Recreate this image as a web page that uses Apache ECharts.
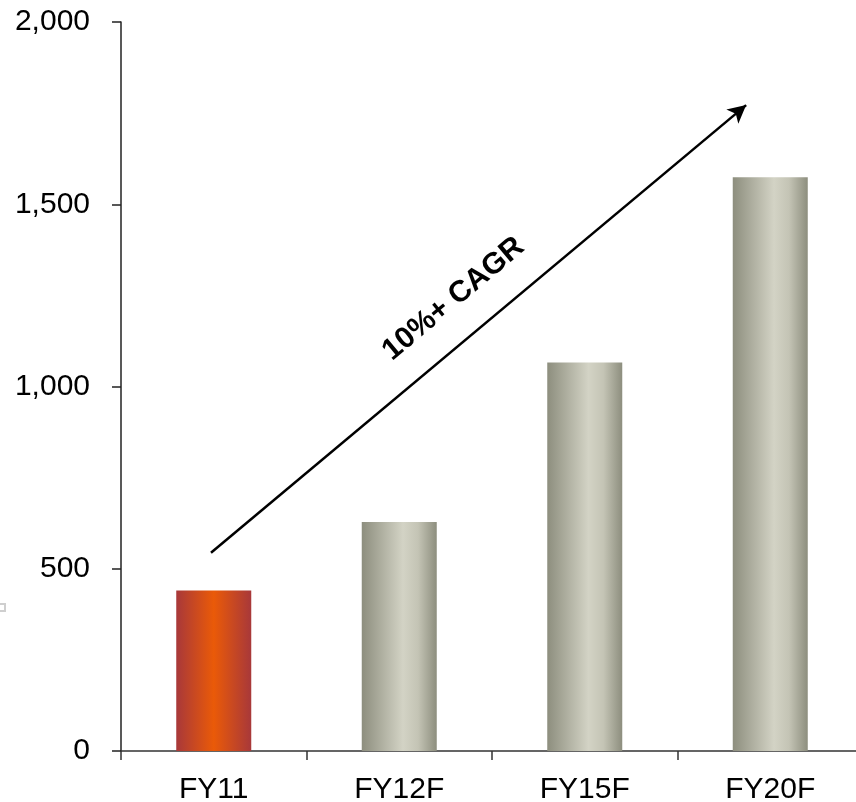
<!DOCTYPE html>
<html lang="en">
<head>
    <meta charset="UTF-8">
    <title>CAGR</title>
    <script src="https://cdn.jsdelivr.net/npm/echarts@6/dist/echarts.min.js"></script>
    <style>
        html, body { margin: 0; padding: 0; background: #fff; }
    </style>
</head>
<body>
<div id="chartBox" style="width: 856px;height: 802px;"></div>
</body>
<script>
    // 类目和数值
    var categories = ['FY11', 'FY12F', 'FY15F', 'FY20F'];
    var values = [440, 628, 1066, 1574];
    var yTicks = [0, 500, 1000, 1500, 2000];

    // 箭头起止点 (类目序号, 数值)
    var arrowStart = [-0.015, 544];
    var arrowEnd = [2.87, 1772];
    var arrowText = '10%+ CAGR';

    var grayFill = new echarts.graphic.LinearGradient(0, 0, 1, 0, [
        {offset: 0, color: '#8d8e7e'},
        {offset: 0.55, color: '#d3d3c5'},
        {offset: 0.75, color: '#c4c4b5'},
        {offset: 1, color: '#8d8e7e'}
    ]);
    var redFill = new echarts.graphic.LinearGradient(0, 0, 1, 0, [
        {offset: 0, color: '#a8383a'},
        {offset: 0.5, color: '#ea5a08'},
        {offset: 1, color: '#a8383a'}
    ]);

    var barData = values.map(function (v, i) {
        return {value: v, itemStyle: {color: i === 0 ? redFill : grayFill}};
    });

    var chart = echarts.init(document.getElementById('chartBox'));
    var option = {
        animation: false,
        // 右侧超出画布一点，跟原图一致
        grid: {left: 121, width: 742, top: 22, bottom: 51, outerBoundsMode: 'none'},
        xAxis: [{
            type: 'category',
            data: categories,
            axisLine: {lineStyle: {color: '#333', width: 1.5}},
            axisTick: {show: true, length: 9, alignWithLabel: false, lineStyle: {color: '#333', width: 1.5}},
            axisLabel: {color: '#000', fontSize: 30, fontFamily: 'Liberation Sans', margin: 24}
        }, {
            type: 'value',
            min: -0.5,
            max: 3.5,
            show: false
        }],
        yAxis: {
            type: 'value',
            min: yTicks[0],
            max: yTicks[yTicks.length - 1],
            interval: 500,
            splitLine: {show: false},
            axisLine: {show: true, onZero: false, lineStyle: {color: '#222', width: 1.5}},
            axisTick: {show: true, length: 9, lineStyle: {color: '#222', width: 1.5}},
            axisLabel: {
                color: '#000', fontSize: 30, fontFamily: 'Liberation Sans', margin: 31,
                formatter: function (v) { return v.toLocaleString('en-US'); }
            }
        },
        graphic: [{
            type: 'rect',
            left: -2, top: 603,
            shape: {width: 6, height: 7},
            style: {fill: '#fff', stroke: '#cfcfcf', lineWidth: 2}
        }],
        series: [{
            type: 'bar',
            data: barData,
            barWidth: 75
        }, {
            type: 'line',
            xAxisIndex: 1,
            data: [arrowStart, arrowEnd],
            showSymbol: false,
            lineStyle: {opacity: 0},
            silent: true,
            markLine: {
                silent: true,
                symbol: ['none', 'arrow'],
                symbolSize: [14, 18],
                lineStyle: {color: '#000', width: 2.5, type: 'solid'},
                label: {
                    show: true,
                    position: 'middle',
                    distance: 24,
                    formatter: arrowText,
                    color: '#000',
                    fontSize: 30,
                    fontWeight: 'bold',
                    fontFamily: 'Liberation Sans'
                },
                data: [[{coord: arrowStart}, {coord: arrowEnd}]]
            }
        }]
    };
    chart.setOption(option);
</script>
</html>
